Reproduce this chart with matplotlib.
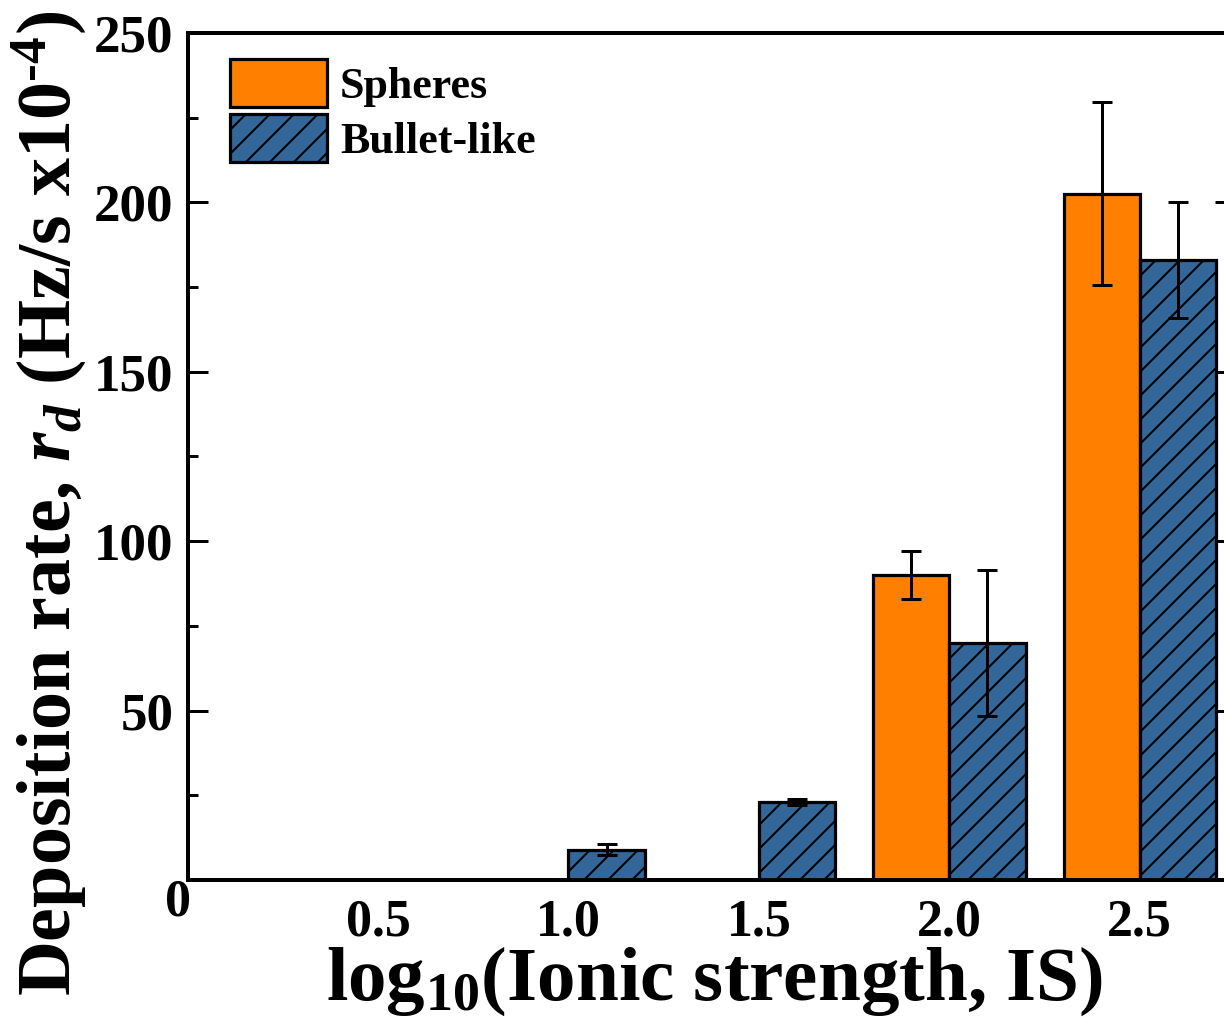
import matplotlib
matplotlib.use("Agg")
import matplotlib.pyplot as plt
import numpy as np

# ---- data ----
sphere_x = [2.0, 2.5]
sphere_val = [90, 202.5]
sphere_err = [7, 27]

bullet_x = [1.0, 1.5, 2.0, 2.5]
bullet_val = [9, 23, 70, 183]
bullet_err = [1.5, 1.0, 21.5, 17]

xtick_vals = [0.5, 1.0, 1.5, 2.0, 2.5]
xtick_labels = ["0.5", "1.0", "1.5", "2.0", "2.5"]
ytick_vals = [50, 100, 150, 200, 250]

ORANGE = "#FF8000"
BLUE = "#336699"

plt.rcParams["font.family"] = "Liberation Serif"
plt.rcParams["font.weight"] = "bold"
plt.rcParams["mathtext.fontset"] = "custom"
plt.rcParams["mathtext.rm"] = "Liberation Serif:bold"
plt.rcParams["mathtext.bf"] = "Liberation Serif:bold"
plt.rcParams["mathtext.it"] = "Liberation Serif:bold:italic"
plt.rcParams["hatch.linewidth"] = 1.0
plt.rcParams["hatch.color"] = "black"

DPI = 144
W, H = 1224, 1017
fig = plt.figure(figsize=(W / DPI, H / DPI), dpi=DPI)
ax = fig.add_axes([187.5 / W, (H - 880) / H, (1235 - 187.5) / W, (880 - 33) / H])

w = 0.2
ax.bar(np.array(sphere_x) - 0.1, sphere_val, width=w, color=ORANGE,
       edgecolor="black", linewidth=1.6, label="Spheres", zorder=2)
ax.bar(np.array(bullet_x) + 0.1, bullet_val, width=w, color=BLUE,
       edgecolor="black", linewidth=1.6, hatch="//", label="Bullet-like", zorder=2)
ax.errorbar(np.array(sphere_x) - 0.1, sphere_val, yerr=sphere_err, fmt="none",
            ecolor="black", elinewidth=1.5, capsize=4.8, capthick=1.5, zorder=3)
ax.errorbar(np.array(bullet_x) + 0.1, bullet_val, yerr=bullet_err, fmt="none",
            ecolor="black", elinewidth=1.5, capsize=4.8, capthick=1.5, zorder=3)

ax.set_xlim(0, 2.75)
ax.set_ylim(0, 250)
for s in ax.spines.values():
    s.set_linewidth(2.0)

ax.set_xticks(xtick_vals)
ax.set_xticklabels(xtick_labels)
ax.set_yticks(ytick_vals)
ax.set_yticks([25, 75, 125, 175, 225], minor=True)
ax.tick_params(axis="x", length=0, labelsize=26, pad=9)
ax.tick_params(axis="y", which="major", direction="in", length=10, width=1.5,
               labelsize=26.5, pad=7, right=True)
ax.tick_params(axis="y", which="minor", direction="in", length=5, width=1.5, right=True)

ax.annotate("0", xy=(0, 0), xycoords="data", xytext=(-4.75, -11.5),
            textcoords="offset points", ha="center", va="center",
            fontsize=26, fontweight="bold")

xl = ax.set_xlabel(r"log$_{10}$(Ionic strength, IS)", fontsize=40, fontweight="bold")
yl = ax.set_ylabel(r"Deposition rate, $r_d$ (Hz/s x10$^{\text{-4}}$)", fontsize=40, fontweight="bold")

# fit label sizes to the reference extents
fig.canvas.draw()
r = fig.canvas.get_renderer()
xw = xl.get_window_extent(r).width
xl.set_fontsize(40 * 777 / xw)
yh = yl.get_window_extent(r).height
yl.set_fontsize(40 * 985 / yh)

xl.set_verticalalignment("baseline")
ax.xaxis.set_label_coords((714 - 187.5) / 1047.5, (880 - 1000) / 847)
yl.set_verticalalignment("baseline")
ax.yaxis.set_label_coords((71 - 187.5) / 1047.5, (880 - 503) / 847)

ax.legend(loc="upper left", bbox_to_anchor=(0.0406, 0.969), frameon=False,
          fontsize=22, handlelength=2.2, handleheight=1.3,
          handletextpad=0.3, labelspacing=0.15, borderpad=0, borderaxespad=0)

fig.savefig("out.png", dpi=DPI)
